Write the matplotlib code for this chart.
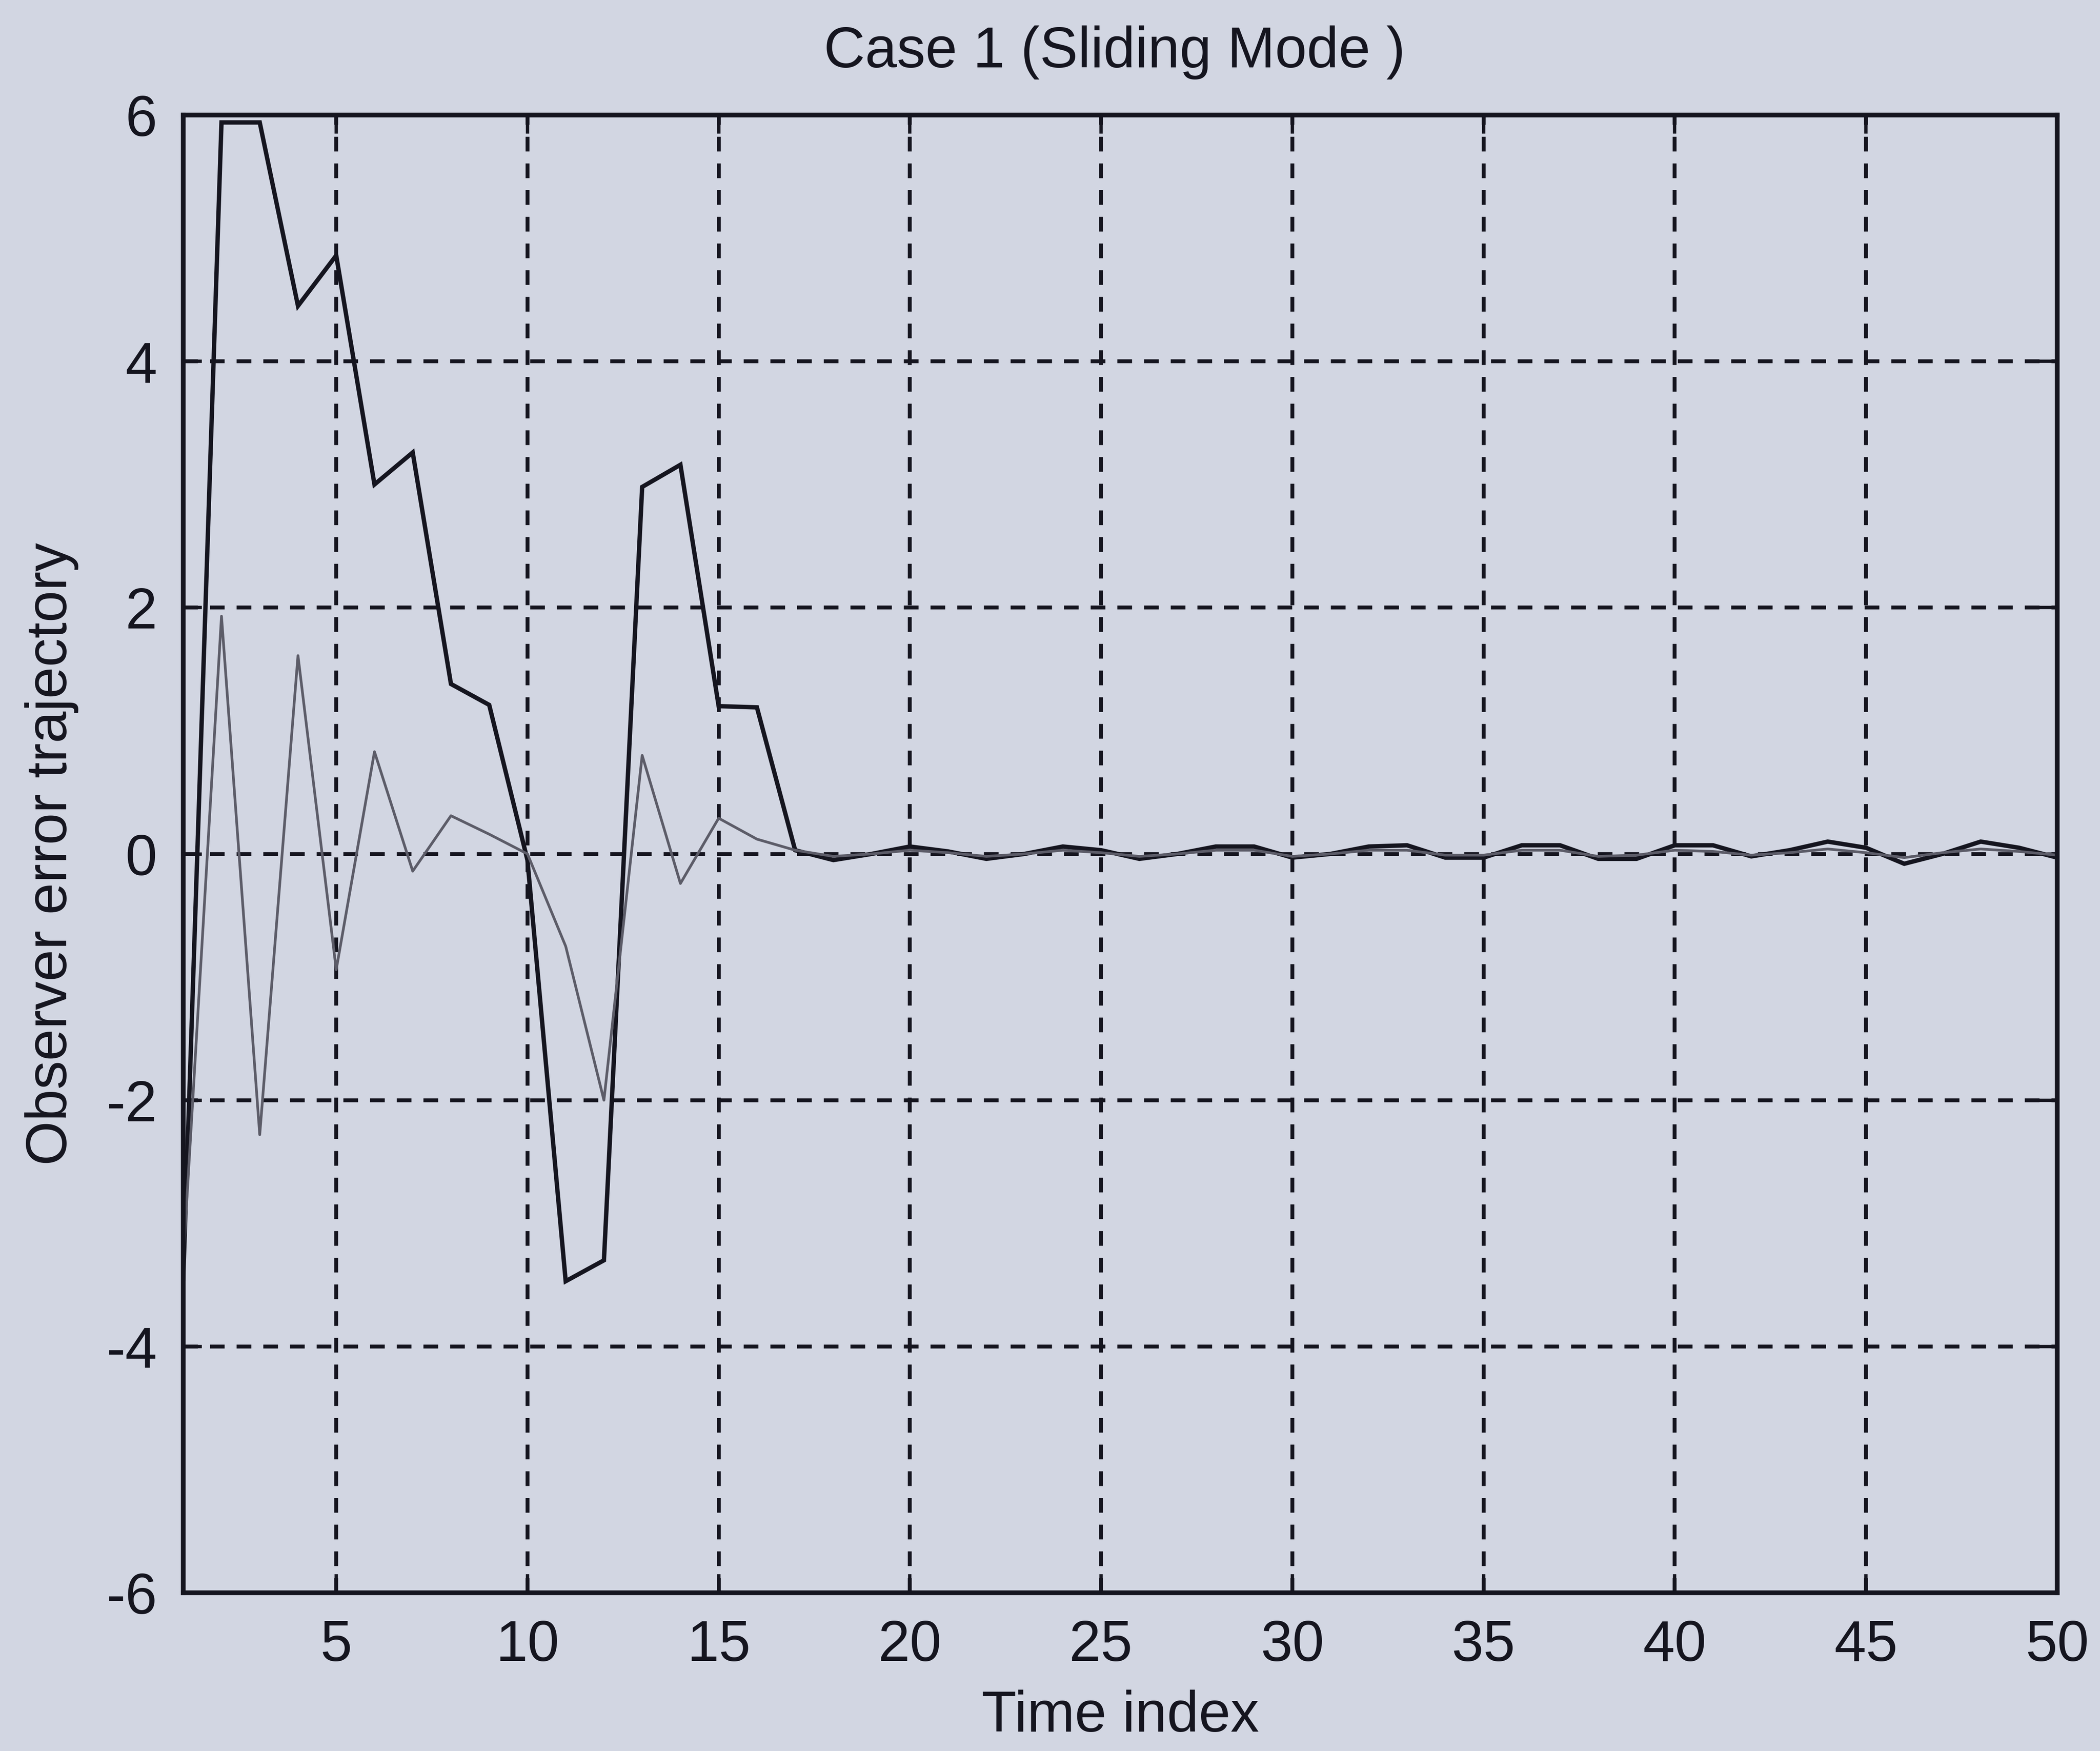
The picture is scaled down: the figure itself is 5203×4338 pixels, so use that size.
import matplotlib
matplotlib.use("Agg")
import matplotlib.pyplot as plt

plt.rcParams['font.family'] = ['Liberation Sans', 'DejaVu Sans']
plt.rcParams['axes.unicode_minus'] = False

# ---- data ----
time_index = list(range(1, 51))

error_1 = [-3.45, 5.94, 5.94, 4.45, 4.86, 3.00, 3.26, 1.38, 1.21, -0.05,
           -3.47, -3.30, 2.98, 3.16, 1.20, 1.19, 0.03,
           -0.05, 0.00, 0.06, 0.02, -0.04, 0.00, 0.06, 0.03, -0.04, 0.00,
           0.06, 0.06, -0.03, 0.00, 0.06, 0.07, -0.03, -0.03, 0.07, 0.07,
           -0.04, -0.04, 0.07, 0.07, -0.02, 0.03, 0.10, 0.05, -0.08, 0.00,
           0.10, 0.05, -0.03]

error_2 = [-3.30, 1.93, -2.28, 1.61, -0.94, 0.83, -0.14, 0.31, 0.16, 0.00,
           -0.75, -2.00, 0.80, -0.24, 0.29, 0.12, 0.03,
           -0.02, 0.00, 0.03, 0.01, -0.02, 0.00, 0.03, 0.01, -0.02, 0.00,
           0.03, 0.03, -0.02, 0.00, 0.03, 0.03, -0.01, -0.01, 0.03, 0.03,
           -0.02, -0.01, 0.03, 0.02, -0.01, 0.01, 0.04, 0.01, -0.03, 0.01,
           0.04, 0.02, -0.01]

x_ticks = [5, 10, 15, 20, 25, 30, 35, 40, 45, 50]
y_ticks = [-6, -4, -2, 0, 2, 4, 6]

title_text = "Case 1 (Sliding Mode )"
x_label = "Time index"
y_label = "Observer error trajectory"

# ---- styling ----
bg = '#d2d6e2'
ink = '#15151f'
fs = 34

fig = plt.figure(figsize=(5203 / 300, 4338 / 300), dpi=300, facecolor=bg)
ax = fig.add_axes([0.08726, 0.09036, 0.89237, 0.84394])
ax.set_facecolor(bg)

ax.plot(time_index, error_1, color=ink, lw=2.6, solid_joinstyle='miter', zorder=3)
ax.plot(time_index, error_2, color='#5c5c68', lw=1.6, zorder=4)

ax.set_xlim(1, 50)
ax.set_ylim(-6, 6)
ax.set_xticks(x_ticks)
ax.set_yticks(y_ticks)

ax.grid(True, color=ink, linestyle=(0, (3.8, 3.1)), linewidth=2.3)
ax.set_axisbelow(False)

for s in ax.spines.values():
    s.set_linewidth(2.8)
    s.set_color(ink)
    s.set_zorder(5)

ax.tick_params(direction='in', length=11, width=2.0, colors=ink,
               labelsize=fs, pad=15.5, top=True, right=True)
for lab in ax.get_xticklabels() + ax.get_yticklabels():
    lab.set_color(ink)

ax.set_xlabel(x_label, fontsize=fs, color=ink)
ax.xaxis.set_label_coords(0.5, -0.0839)
ax.xaxis.label.set_va('center')

ax.set_ylabel(y_label, fontsize=fs, color=ink)
ax.yaxis.set_label_coords(-0.0702, 0.5)
ax.yaxis.label.set_va('center')

ax.text(0.497, 1.0423, title_text, transform=ax.transAxes, ha='center',
        va='center', fontsize=fs, color=ink)

fig.savefig('out.png', dpi=300, facecolor=bg)
